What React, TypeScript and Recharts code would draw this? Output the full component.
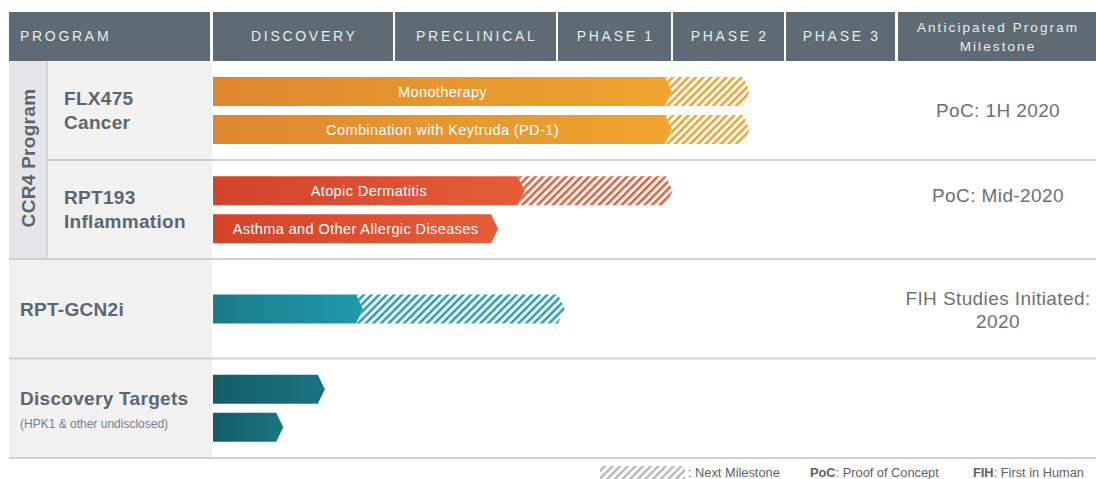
import React from "react";
import { BarChart, Bar, XAxis, YAxis, Cell, LabelList } from "recharts";

const sections = ["FLX475", "RPT193", "RPT-GCN2i", "Discovery Targets"];
const subtitles = ["Cancer", "Inflammation", null, "(HPK1 & other undisclosed)"];
const milestones = [["PoC: 1H 2020"], ["PoC: Mid-2020"], ["FIH Studies Initiated:", "2020"], []];

// progress as % of the Discovery -> Phase 3 span
const upperDone = [67.3, 45.7, null, 16.4];
const upperNext = [11.4, 21.7, null, null];
const middleDone = [null, null, 22.0, null];
const middleNext = [null, null, 29.6, null];
const lowerDone = [67.3, 41.8, null, 10.3];
const lowerNext = [11.4, null, null, null];
const upperLabels = ["Monotherapy", "Atopic Dermatitis", null, null];
const lowerLabels = ["Combination with Keytruda (PD-1)", "Asthma and Other Allergic Diseases", null, null];

const stages = ["DISCOVERY", "PRECLINICAL", "PHASE 1", "PHASE 2", "PHASE 3"];

const W = 1096;
const H = 479;
const FONT = "'Liberation Sans', Arial, sans-serif";
const HEADER = "#5f6b74";
const LABEL = "#5b6670";
const RULE = "#cdd1d4";
const TIP = 7;

const gradients = [
  ["#de872e", "#efa52f"],
  ["#d3432b", "#e65d38"],
  ["#1a7a8a", "#1f9bab"],
  ["#125c68", "#1b7482"],
];
const hatchColors = ["#f0a632", "#e8623f", "#2ca4b4", "#1b7482"];

// header cells: [x, width]
const headerCells: [number, number][] = [
  [213, 180],
  [395, 161],
  [558, 113],
  [673, 111],
  [786, 109],
];
const milestoneShift = [0, -14, 1.5, 0];

const DoneShape = (props: any) => {
  const { x, y, width, height, fill } = props;
  if (!width || width <= 0) return null;
  const d = `M${x},${y}H${x + width - TIP}L${x + width},${y + height / 2}L${x + width - TIP},${y + height}H${x}Z`;
  return <path d={d} fill={fill} />;
};

const NextShape = (props: any) => {
  const { x, y, width, height, fill } = props;
  if (!width || width <= 0) return null;
  const d =
    `M${x - TIP},${y}H${x + width - TIP}L${x + width},${y + height / 2}` +
    `L${x + width - TIP},${y + height}H${x - TIP}L${x},${y + height / 2}Z`;
  return <path d={d} fill={fill} />;
};

const SectionTick = (props: any) => {
  const { y, payload } = props;
  const i = sections.indexOf(payload.value);
  const sx = i < 2 ? 64 : 20;
  const sub = subtitles[i];
  const ms = milestones[i];
  const msTop = y + 6 + milestoneShift[i] - (ms.length - 1) * 11.5;
  return (
    <g>
      {sub === null ? (
        <text x={sx} y={y + 7} fontSize={19} fontWeight="bold" fill={LABEL} letterSpacing={0.3}>
          {payload.value}
        </text>
      ) : i === 3 ? (
        <>
          <text x={sx} y={y - 3} fontSize={19} fontWeight="bold" fill={LABEL} letterSpacing={0.3}>
            {payload.value}
          </text>
          <text x={sx} y={y + 20} fontSize={12} fill="#7a7f84">
            {sub}
          </text>
        </>
      ) : (
        <>
          <text x={sx} y={y - 5.5} fontSize={19} fontWeight="bold" fill={LABEL} letterSpacing={0.3}>
            {payload.value}
          </text>
          <text x={sx} y={y + 18.5} fontSize={19} fontWeight="bold" fill={LABEL} letterSpacing={0.3}>
            {sub}
          </text>
        </>
      )}
      {ms.map((line, k) => (
        <text key={k} x={998} y={msTop + k * 23} textAnchor="middle" fontSize={19} letterSpacing={0.4} fill="#6a7177">
          {line}
        </text>
      ))}
    </g>
  );
};

const Backdrop = () => (
  <svg width={W} height={H} style={{ position: "absolute", left: 0, top: 0 }} fontFamily={FONT}>
    <defs>
      <pattern id="legend-hatch" patternUnits="userSpaceOnUse" width={5.4} height={5.4} patternTransform="rotate(45)">
        <rect width={2.6} height={5.4} fill="#b9bdc1" />
      </pattern>
    </defs>
    <rect x={9} y={61} width={203} height={397} fill="#f1f1f1" />
    <rect x={9} y={61} width={38} height={198} fill="#e4e6e8" />
    <line x1={47} x2={47} y1={61} y2={259} stroke={RULE} strokeWidth={1.5} />
    <line x1={47} x2={W} y1={160} y2={160} stroke={RULE} strokeWidth={2} />
    <line x1={9} x2={W} y1={259} y2={259} stroke={RULE} strokeWidth={2} />
    <line x1={9} x2={W} y1={358.5} y2={358.5} stroke={RULE} strokeWidth={2} />
    <line x1={9} x2={W} y1={458} y2={458} stroke={RULE} strokeWidth={2} />

    <rect x={9} y={12} width={201} height={49} fill={HEADER} />
    <text x={20} y={41} fontSize={14} fill="#e8ebee" letterSpacing={2.7}>
      PROGRAM
    </text>
    {headerCells.map(([x, w], i) => (
      <g key={stages[i]}>
        <rect x={x} y={12} width={w} height={49} fill={HEADER} />
        <text x={x + w / 2 + 1.3} y={41} textAnchor="middle" fontSize={14} fill="#e8ebee" letterSpacing={2.7}>
          {stages[i]}
        </text>
      </g>
    ))}
    <rect x={898} y={12} width={198} height={49} fill={HEADER} />
    <text x={998} y={32} textAnchor="middle" fontSize={13.5} fill="#e8ebee" letterSpacing={2.1}>
      Anticipated Program
    </text>
    <text x={998} y={51} textAnchor="middle" fontSize={13.5} fill="#e8ebee" letterSpacing={2.1}>
      Milestone
    </text>

    <text transform="translate(35,158) rotate(-90)" textAnchor="middle" fontSize={19} fontWeight="bold" fill={LABEL} letterSpacing={0.3}>
      CCR4 Program
    </text>

    <rect x={600} y={466} width={85} height={13} fill="url(#legend-hatch)" />
    <text x={688} y={477} fontSize={12.8} fill="#5d6166">
      : Next Milestone
    </text>
    <text x={810} y={477} fontSize={12.8} fill="#5d6166">
      <tspan fontWeight="bold">PoC</tspan>: Proof of Concept
    </text>
    <text x={973} y={477} fontSize={12.8} fill="#5d6166">
      <tspan fontWeight="bold">FIH</tspan>: First in Human
    </text>
  </svg>
);

export default function App() {
  const data = sections.map((section, i) => ({
    section,
    upperDone: upperDone[i],
    upperNext: upperNext[i],
    middleDone: middleDone[i],
    middleNext: middleNext[i],
    lowerDone: lowerDone[i],
    lowerNext: lowerNext[i],
    upperLabel: upperLabels[i],
    lowerLabel: lowerLabels[i],
  }));

  const doneCells = data.map((_, i) => <Cell key={i} fill={`url(#grad-${i})`} />);
  const nextCells = data.map((_, i) => <Cell key={i} fill={`url(#hatch-${i})`} />);
  const labelProps = { position: "center" as const, fill: "#ffffff", fontSize: 14.5, letterSpacing: 0.4, fontFamily: FONT };

  return (
    <div style={{ position: "absolute", left: 0, top: 0, width: W, height: H, background: "#fff", fontFamily: FONT }}>
      <Backdrop />
      <div style={{ position: "absolute", left: 0, top: 0 }}>
        <BarChart
          width={W}
          height={H}
          data={data}
          layout="vertical"
          margin={{ top: 61, right: 201, bottom: 21, left: 13 }}
          barSize={29}
          barGap={-10}
          barCategoryGap={0}
        >
          <defs>
            {gradients.map(([a, b], i) => (
              <linearGradient key={i} id={`grad-${i}`} x1="0" y1="0" x2="1" y2="0">
                <stop offset="0%" stopColor={a} />
                <stop offset="100%" stopColor={b} />
              </linearGradient>
            ))}
            {hatchColors.map((c, i) => (
              <pattern key={i} id={`hatch-${i}`} patternUnits="userSpaceOnUse" width={5.4} height={5.4} patternTransform="rotate(45)">
                <rect width={2.6} height={5.4} fill={c} />
              </pattern>
            ))}
          </defs>
          <XAxis type="number" domain={[0, 100]} hide />
          <YAxis
            type="category"
            dataKey="section"
            width={200}
            axisLine={false}
            tickLine={false}
            interval={0}
            tick={(p: any) => <SectionTick {...p} />}
          />

          <Bar dataKey="upperDone" stackId="upper" shape={<DoneShape />} isAnimationActive={false}>
            {doneCells}
            <LabelList dataKey="upperLabel" {...labelProps} />
          </Bar>
          <Bar dataKey="upperNext" stackId="upper" shape={<NextShape />} isAnimationActive={false}>
            {nextCells}
          </Bar>
          <Bar dataKey="middleDone" stackId="middle" shape={<DoneShape />} isAnimationActive={false}>
            {doneCells}
          </Bar>
          <Bar dataKey="middleNext" stackId="middle" shape={<NextShape />} isAnimationActive={false}>
            {nextCells}
          </Bar>
          <Bar dataKey="lowerDone" stackId="lower" shape={<DoneShape />} isAnimationActive={false}>
            {doneCells}
            <LabelList dataKey="lowerLabel" {...labelProps} />
          </Bar>
          <Bar dataKey="lowerNext" stackId="lower" shape={<NextShape />} isAnimationActive={false}>
            {nextCells}
          </Bar>
        </BarChart>
      </div>
    </div>
  );
}
